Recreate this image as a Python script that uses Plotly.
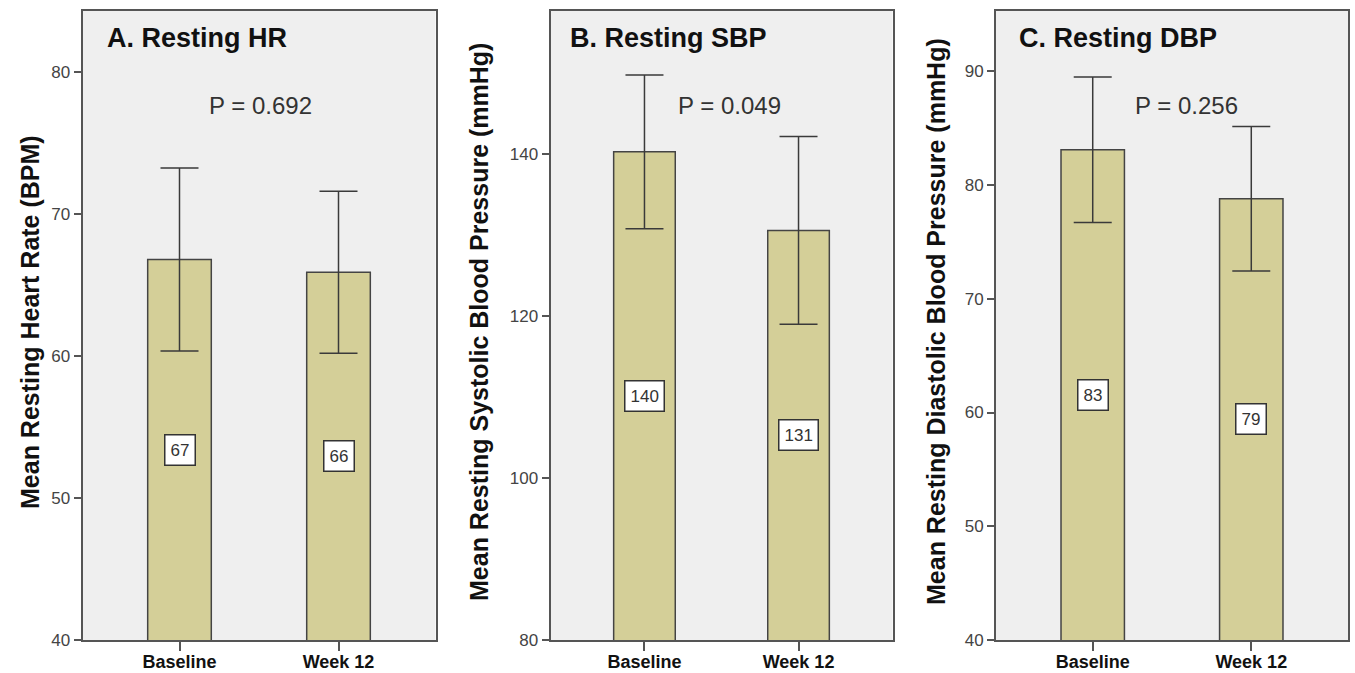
import plotly.graph_objects as go

# ---------------- data ----------------
categories = ["Baseline", "Week 12"]
panel_titles = ["A. Resting HR", "B. Resting SBP", "C. Resting DBP"]
y_titles = [
    "Mean Resting Heart Rate (BPM)",
    "Mean Resting Systolic Blood Pressure (mmHg)",
    "Mean Resting Diastolic Blood Pressure (mmHg)",
]
p_values = ["P = 0.692", "P = 0.049", "P = 0.256"]

hr_means = [66.8, 65.9]
hr_err = [6.45, 5.7]
sbp_means = [140.3, 130.6]
sbp_err = [9.5, 11.6]
dbp_means = [83.1, 78.8]
dbp_err = [6.4, 6.35]

y_mins = [40, 80, 40]
y_maxs = [84.3, 157.7, 95.3]
y_ticks = [[40, 50, 60, 70, 80], [80, 100, 120, 140], [40, 50, 60, 70, 80, 90]]

means = [hr_means, sbp_means, dbp_means]
errs = [hr_err, sbp_err, dbp_err]

# ---------------- layout geometry (pixels) ----------------
W, H = 1355, 673
x_dom_px = [(82.5, 435.5), (550.5, 892.5), (996, 1348)]
y_top_px, y_bot_px = 11, 640
title_left_px = [105, 568, 1017]
title_y_px = 38
p_center_px = [260, 729, 1186]
p_y_px = 105
ytitle_x_px = [30, 479, 936]
ytitle_y_px = 322

FONT = "Liberation Sans, Arial, sans-serif"
BAR_FILL = "#d4cf98"
EDGE = "#444444"

def px_x(v):
    return v / W

def px_y(v):
    return 1 - v / H

fig = go.Figure()
annotations = []

for i in range(3):
    xa = "x" if i == 0 else f"x{i+1}"
    ya = "y" if i == 0 else f"y{i+1}"
    fig.add_trace(go.Bar(
        x=categories, y=means[i], xaxis=xa, yaxis=ya, width=0.4,
        marker=dict(color=BAR_FILL, line=dict(color=EDGE, width=1.5)),
        error_y=dict(type="data", array=errs[i], visible=True,
                     color="#3a3a3a", thickness=1.5, width=19),
        showlegend=False, hoverinfo="skip",
    ))
    # value boxes in the middle of each visible bar
    for c, m in zip(categories, means[i]):
        annotations.append(dict(
            x=c, y=(y_mins[i] + m) / 2, xref=xa, yref=ya,
            text=f"{round(m)}", showarrow=False,
            font=dict(family=FONT, size=17, color="#333333"),
            bgcolor="white", bordercolor="#333333", borderwidth=1.5, borderpad=5,
        ))
    # panel title
    annotations.append(dict(
        x=px_x(title_left_px[i]), y=px_y(title_y_px), xref="paper", yref="paper",
        xanchor="left", yanchor="middle", showarrow=False,
        text=f"<b>{panel_titles[i]}</b>",
        font=dict(family=FONT, size=27, color="#111111"),
    ))
    # p value
    annotations.append(dict(
        x=px_x(p_center_px[i]), y=px_y(p_y_px), xref="paper", yref="paper",
        xanchor="center", yanchor="middle", showarrow=False,
        text=p_values[i],
        font=dict(family=FONT, size=24, color="#333333"),
    ))
    # y axis title
    annotations.append(dict(
        x=px_x(ytitle_x_px[i]), y=px_y(ytitle_y_px), xref="paper", yref="paper",
        xanchor="center", yanchor="middle", showarrow=False, textangle=-90,
        text=f"<b>{y_titles[i]}</b>",
        font=dict(family=FONT, size=25, color="#111111"),
    ))

layout = dict(
    width=W, height=H,
    margin=dict(l=0, r=0, t=0, b=0),
    paper_bgcolor="white",
    plot_bgcolor="#efefef",
    annotations=annotations,
)

for i in range(3):
    xkey = "xaxis" if i == 0 else f"xaxis{i+1}"
    ykey = "yaxis" if i == 0 else f"yaxis{i+1}"
    ya = "y" if i == 0 else f"y{i+1}"
    xa = "x" if i == 0 else f"x{i+1}"
    layout[xkey] = dict(
        domain=[px_x(x_dom_px[i][0]), px_x(x_dom_px[i][1])],
        anchor=ya, type="category", range=[-0.61, 1.61], automargin=False,
        showline=True, linecolor="#555555", linewidth=2, mirror=True,
        ticks="outside", ticklen=9, tickwidth=2, tickcolor="#555555",
        ticklabelstandoff=-5,
        showgrid=False, zeroline=False,
        tickfont=dict(family=FONT, size=18, color="#111111", weight="bold"),
        fixedrange=True,
    )
    layout[ykey] = dict(
        domain=[px_y(y_bot_px), px_y(y_top_px)],
        anchor=xa, range=[y_mins[i], y_maxs[i]], automargin=False,
        tickvals=y_ticks[i],
        showline=True, linecolor="#555555", linewidth=2, mirror=True,
        ticks="outside", ticklen=7, tickwidth=2, tickcolor="#555555",
        showgrid=False, zeroline=False,
        tickfont=dict(family=FONT, size=17, color="#444444"),
        fixedrange=True,
    )

fig.update_layout(**layout)
fig.write_html(
    "out.html",
    config={"displayModeBar": False},
    post_script="document.body.style.margin='0px';document.body.style.overflow='hidden';",
)
